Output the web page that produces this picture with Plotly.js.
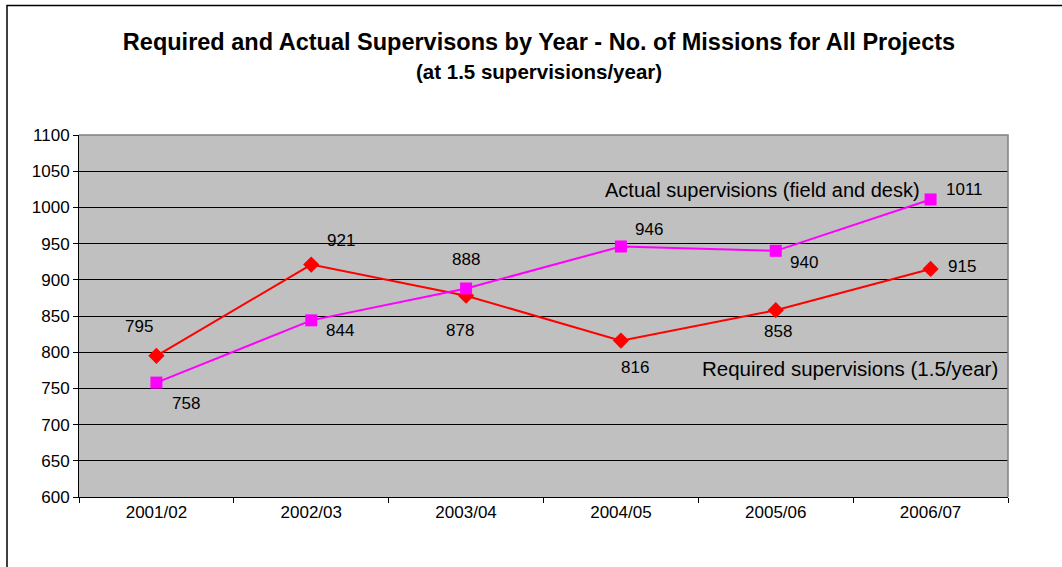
<!DOCTYPE html>
<html>
<head>
<meta charset="utf-8">
<script src="https://cdn.plot.ly/plotly-3.0.1.min.js"></script>
<style>
  html, body { margin: 0; padding: 0; background: #ffffff; }
  #chart { width: 1062px; height: 567px; }
</style>
</head>
<body>
<div id="chart"></div>
<script>
// Financial years on the category axis
const years = ["2001/02", "2002/03", "2003/04", "2004/05", "2005/06", "2006/07"];

// Number of supervision missions per year
const requiredMissions = [795, 921, 878, 816, 858, 915];
const actualMissions = [758, 844, 888, 946, 940, 1011];

// Value-label offsets in pixels (dx, dy upward) for each point
const requiredLabelShift = [[-17, 29], [30, 24], [-6, -35], [14, -27], [2, -21], [31, 2]];
const actualLabelShift = [[30, -21], [29, -10], [0, 29], [28, 17], [28, -12], [34, 10]];

const yTicks = [600, 650, 700, 750, 800, 850, 900, 950, 1000, 1050, 1100];

const FONT = "Arial, 'Liberation Sans', sans-serif";

const traces = [
  {
    x: years, y: requiredMissions, type: "scatter", mode: "lines+markers",
    name: "Required supervisions (1.5/year)",
    line: { color: "#FF0000", width: 2 },
    marker: { symbol: "diamond", size: 12.5, color: "#FF0000" },
    cliponaxis: false
  },
  {
    x: years, y: actualMissions, type: "scatter", mode: "lines+markers",
    name: "Actual supervisions (field and desk)",
    line: { color: "#FF00FF", width: 2 },
    marker: { symbol: "square", size: 12, color: "#FF00FF" },
    cliponaxis: false
  }
];

const annotations = [];
function addValueLabels(values, shifts) {
  values.forEach((v, i) => {
    annotations.push({
      x: years[i], y: v, xref: "x", yref: "y",
      text: String(v), showarrow: false,
      xanchor: "center", yanchor: "middle",
      xshift: shifts[i][0], yshift: shifts[i][1],
      font: { family: FONT, size: 17, color: "#000000" }
    });
  });
}
addValueLabels(requiredMissions, requiredLabelShift);
addValueLabels(actualMissions, actualLabelShift);

// Series names written inside the plot area
annotations.push({
  x: 0.9074, y: 0.849, xref: "x domain", yref: "y domain",
  text: "Actual supervisions (field and desk)", showarrow: false,
  xanchor: "right", yanchor: "middle",
  font: { family: FONT, size: 20, color: "#000000" }
});
annotations.push({
  x: 0.9914, y: 0.354, xref: "x domain", yref: "y domain",
  text: "Required supervisions (1.5/year)", showarrow: false,
  xanchor: "right", yanchor: "middle",
  font: { family: FONT, size: 20.5, color: "#000000" }
});

// Subtitle
annotations.push({
  x: (539 - 79) / 929, y: (497 - 71) / 362, xref: "paper", yref: "paper",
  text: "<b>(at 1.5 supervisions/year)</b>", showarrow: false,
  xanchor: "center", yanchor: "middle",
  font: { family: FONT, size: 20.5, color: "#000000" }
});

const layout = {
  width: 1062, height: 567,
  margin: { l: 79, r: 54, t: 135, b: 70 },
  paper_bgcolor: "#FFFFFF",
  plot_bgcolor: "#C0C0C0",
  showlegend: false,
  title: {
    text: "<b>Required and Actual Supervisons by Year - No. of Missions for All Projects</b>",
    x: 539 / 1062, xanchor: "center",
    y: 1 - 42 / 567, yref: "container", yanchor: "middle",
    font: { family: FONT, size: 23.5, color: "#000000" }
  },
  xaxis: {
    type: "category",
    categoryorder: "array", categoryarray: years,
    range: [-0.5, years.length - 0.5],
    tickson: "boundaries",
    ticks: "outside", ticklen: 5, tickcolor: "#000000",
    showgrid: false,
    showline: true, linecolor: "#000000", linewidth: 1,
    zeroline: false,
    tickfont: { family: FONT, size: 17, color: "#000000" }
  },
  yaxis: {
    range: [600, 1100],
    tickvals: yTicks, ticktext: yTicks.map(String),
    ticks: "outside", ticklen: 5, tickcolor: "#000000",
    showgrid: true, gridcolor: "#000000", gridwidth: 1,
    showline: true, linecolor: "#000000", linewidth: 1,
    zeroline: false,
    tickfont: { family: FONT, size: 17, color: "#000000" }
  },
  annotations: annotations,
  shapes: [
    // grey top and right edges of the plot area
    {
      type: "path", xref: "paper", yref: "paper",
      path: "M 0 1 L 1 1 L 1 0",
      line: { color: "#808080", width: 1.5 }, layer: "above"
    },
    // outer chart frame (left and top)
    {
      type: "path", xref: "paper", yref: "paper",
      path: "M -0.0775 -0.3 L -0.0775 1.358 L 1.2 1.358",
      line: { color: "#000000", width: 1.5 }, layer: "above"
    }
  ]
};

Plotly.newPlot("chart", traces, layout, { displayModeBar: false, staticPlot: true });
</script>
</body>
</html>
